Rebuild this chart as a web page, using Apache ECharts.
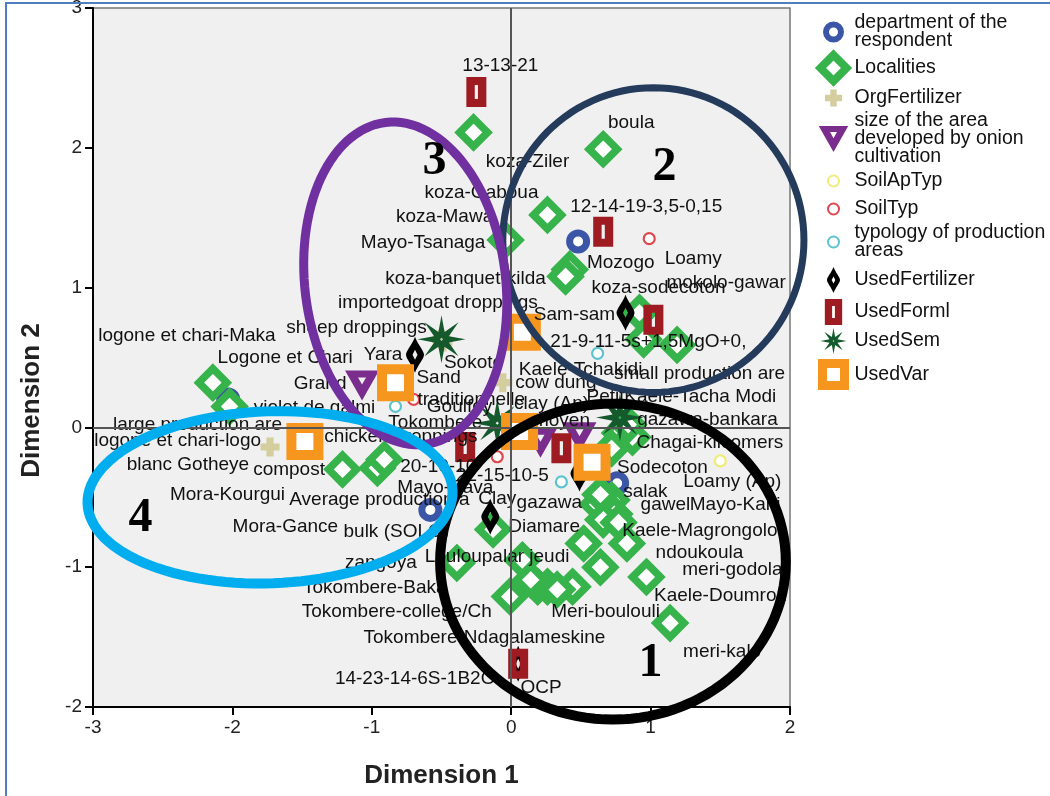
<!DOCTYPE html>
<html>
<head>
<meta charset="utf-8">
<title>Joint plot of category points</title>
<script src="https://cdn.jsdelivr.net/npm/echarts@6/dist/echarts.min.js"></script>
<style>
  html, body { margin: 0; padding: 0; background: #fff; }
  #chart { position: absolute; left: 0; top: 0; width: 1050px; height: 796px; }
  #frame { position: absolute; left: 5px; top: 2px; width: 1045px; height: 794px;
           border-left: 2px solid #4f7fc0; border-top: 2px solid #4f7fc0;
           box-sizing: border-box; pointer-events: none; }
</style>
</head>
<body>
<div id="chart"></div>
<div id="frame"></div>
<script>
// ---- category points: [Dimension 1, Dimension 2, category label] ----
const departmentPts = [
  [0.48, 1.33, 'Mayo-Tsanaga'],
  [-2.03, 0.20, 'Logone et Chari'],
  [-0.58, -0.59, 'Mayo-Sava'],
  [0.76, -0.40, 'Mayo-Kani'],
  [0.53, -0.84, 'Diamare']
];
const localityPts = [
  [-0.27, 2.11, 'koza-Ziler'],
  [0.66, 1.99, 'boula'],
  [0.26, 1.52, 'koza-Gaboua'],
  [-0.04, 1.34, 'koza-Mawa'],
  [0.42, 1.13, 'Mozogo'],
  [0.39, 1.08, 'koza-banquet-kilda'],
  [0.92, 0.82, 'koza-sodecoton'],
  [0.95, 0.63, 'Kaele-Tchakidi'],
  [1.19, 0.59, 'mokolo-gawar'],
  [-2.14, 0.32, 'logone et chari-Maka'],
  [-2.02, 0.15, 'logone et chari-logo'],
  [-1.21, -0.30, 'Mora-Kourgui'],
  [-0.96, -0.29, 'Mora-Gance'],
  [-0.91, -0.23, 'Tokombere'],
  [0.78, -0.04, 'Chagai-kilcomers'],
  [0.87, -0.07, 'gazawa-bankara'],
  [0.84, 0.02, 'Kaele-Tacha Modi'],
  [0.72, -0.15, ''],
  [-0.13, -0.73, 'Louloupalar jeudi'],
  [-0.39, -0.97, 'zangoya'],
  [0.08, -0.95, 'gazawa'],
  [-0.01, -1.21, 'Tokombere-Baka'],
  [0.19, -1.14, 'Tokombere-college/Ch'],
  [0.26, -1.14, 'Tokombere-Ndagalameskine'],
  [0.44, -1.14, 'Meri-boulouli'],
  [0.14, -1.09, ''],
  [0.33, -1.16, ''],
  [0.52, -0.83, ''],
  [0.64, -1.00, 'ndoukoula'],
  [0.83, -0.83, 'Kaele-Magrongolo'],
  [0.69, -0.59, 'gawel'],
  [0.72, -0.52, ''],
  [0.62, -0.55, ''],
  [0.74, -0.62, ''],
  [0.66, -0.66, ''],
  [0.97, -1.07, 'meri-godola'],
  [1.14, -1.40, 'meri-kalo'],
  [0.77, -0.68, 'Kaele-Doumrou'],
  [0.64, -0.48, 'salak']
];
const orgFertilizerPts = [
  [-1.73, -0.14, 'compost'],
  [-0.06, 0.32, 'cow dung'],
  [-0.50, 0.63, 'sheep droppings'],
  [-0.49, 0.61, 'importedgoat droppings'],
  [-1.48, -0.10, 'chicken droppings']
];
const areaSizePts = [
  [-1.07, 0.30, 'Grand'],
  [0.21, -0.11, 'moyen'],
  [0.49, -0.07, 'Petit']
];
const soilApTypePts = [
  [1.50, -0.24, 'Loamy (Ap)'],
  [0.06, -0.03, 'clay (Ap)']
];
const soilTypePts = [
  [0.99, 1.35, 'Loamy'],
  [-0.70, 0.20, 'Sand'],
  [-0.10, -0.21, 'Clay']
];
const zoneTypologyPts = [
  [-0.83, 0.15, 'large production are'],
  [0.62, 0.53, 'small production are'],
  [0.36, -0.39, 'Average production a']
];
const fertilizerPts = [
  [-0.69, 0.52, 'Yara'],
  [0.82, 0.82, 'Sam-sam'],
  [0.49, -0.33, 'Sodecoton'],
  [-0.15, -0.64, 'bulk (SOLO)'],
  [0.05, -1.69, 'OCP']
];
const formulaPts = [
  [-0.25, 2.40, '13-13-21'],
  [0.66, 1.40, '12-14-19-3,5-0,15'],
  [1.02, 0.77, '21-9-11-5s+1,5MgO+0,'],
  [-0.33, -0.14, '20-10-10'],
  [0.36, -0.15, '22-15-10-5'],
  [0.05, -1.69, '14-23-14-6S-1B2O']
];
const seedPts = [
  [-0.50, 0.63, 'Sokoto'],
  [-0.10, 0.03, 'traditionnelle'],
  [0.78, 0.07, '']
];
const varietyPts = [
  [-0.83, 0.32, 'violet de galmi'],
  [0.08, 0.68, ''],
  [-1.48, -0.10, 'blanc Gotheye'],
  [0.06, -0.03, 'Goulfey'],
  [0.58, -0.25, '']
];

// axis ticks
const dim1Ticks = [-3, -2, -1, 0, 1, 2];
const dim2Ticks = [-2, -1, 0, 1, 2, 3];

// ---- label placement (pixel nudge of each label from its point) ----
const labelNudge = {
  'Mayo-Tsanaga': [-155, 1], 'Logone et Chari': [57, -42], 'Mayo-Sava': [15, -22],
  'Mayo-Kani': [118, 21], 'Diamare': [-41, -18],
  'koza-Ziler': [54, 29], 'boula': [28, -26], 'koza-Gaboua': [-66, -22], 'koza-Mawa': [-61, -23],
  'Mozogo': [51, -7], 'koza-banquet-kilda': [-100, 2], 'koza-sodecoton': [19, -25],
  'Kaele-Tchakidi': [-63, 30], 'mokolo-gawar': [49, -62], 'logone et chari-Maka': [-26, -47],
  'logone et chari-logo': [-52, 34], 'Mora-Kourgui': [-115, 25], 'Mora-Gance': [-92, 59],
  'Tokombere': [51, -37], 'Chagai-kilcomers': [90, 10], 'gazawa-bankara': [75, -17],
  'Kaele-Tacha Modi': [72, -28], 'Louloupalar jeudi': [4, 27], 'zangoya': [-76, 0],
  'gazawa': [27, -57], 'Tokombere-Baka': [-135, -9], 'Tokombere-college/Ch': [-141, 25],
  'Tokombere-Ndagalameskine': [-63, 51], 'Meri-boulouli': [33, 25], 'ndoukoula': [99, -14],
  'Kaele-Magrongolo': [73, -13], 'gawel': [58, -5], 'meri-godola': [86, -7],
  'meri-kalo': [52, 29], 'Kaele-Doumrou': [102, 73], 'salak': [45, -3],
  'compost': [19, 23], 'cow dung': [53, 0], 'sheep droppings': [-85, -12],
  'importedgoat droppings': [-5, -39], 'chicken droppings': [96, -5],
  'Grand': [-42, -2], 'moyen': [21, -22], 'Petit': [26, -40],
  'Loamy (Ap)': [12, 21], 'clay (Ap)': [32, -28],
  'Loamy': [44, 20], 'Sand': [25, -22], 'Clay': [0, 42],
  'large production are': [-198, 18], 'small production are': [102, 20], 'Average production a': [-182, 18],
  'Yara': [-32, 0], 'Sam-sam': [-51, 2], 'Sodecoton': [83, -6], 'bulk (SOLO)': [-94, 15], 'OCP': [23, 24],
  '13-13-21': [24, -26], '12-14-19-3,5-0,15': [43, -25], '21-9-11-5s+1,5MgO+0,': [-5, 22],
  '20-10-10': [-27, 20], '22-15-10-5': [-59, 27], '14-23-14-6S-1B2O': [-103, 15],
  'Sokoto': [32, 23], 'traditionnelle': [-26, -23],
  'violet de galmi': [-81, 25], 'blanc Gotheye': [-117, 23], 'Goulfey': [-60, -25]
};

// ---- group outlines drawn over the plot (data units) ----
const clusterOutlines = [
  { cx: 0.73, cy: -0.96, rx: 1.24, ry: 1.13, tilt: 0, color: '#000000', width: 10, tag: '1', tx: 1.00, ty: -1.69 },
  { cx: 1.02, cy: 1.34, rx: 1.08, ry: 1.09, tilt: 0, color: '#243b5c', width: 7, tag: '2', tx: 1.10, ty: 1.86 },
  { cx: -0.76, cy: 1.03, rx: 0.72, ry: 1.16, tilt: -7, color: '#7030a0', width: 9, tag: '3', tx: -0.55, ty: 1.90 },
  { cx: -1.73, cy: -0.50, rx: 1.31, ry: 0.615, tilt: -2, color: '#00aeef', width: 10, tag: '4', tx: -2.66, ty: -0.65 }
];

const FONT = '"Liberation Sans", Arial, sans-serif';
const TEXT = '#111111';

// ---- marker shapes ----
function starPath(n, R, r) {
  let d = '';
  for (let i = 0; i < n * 2; i++) {
    const rad = i % 2 === 0 ? R : r;
    const ang = -Math.PI / 2 + i * Math.PI / n;
    d += (i ? 'L' : 'M') + (rad * Math.cos(ang)).toFixed(2) + ',' + (rad * Math.sin(ang)).toFixed(2) + ' ';
  }
  return d + 'Z M0,-1.6 L-1.6,0 L0,1.6 L1.6,0 Z';
}
const PLUS = 'M-3.2,-8.5 L3.2,-8.5 L3.2,-3.2 L8.5,-3.2 L8.5,3.2 L3.2,3.2 L3.2,8.5 L-3.2,8.5 L-3.2,3.2 L-8.5,3.2 L-8.5,-3.2 L-3.2,-3.2 Z';
const TRI = 'M-17,-15 L17,-15 L0,15 Z M-4,-8 L0,-1 L4,-8 Z';
const LENS = 'M0,-18 C3,-10 9,-4 9,0 C9,4 3,10 0,18 C-3,10 -9,4 -9,0 C-9,-4 -3,-10 0,-18 Z M0,-5 L-2.5,0 L0,5 L2.5,0 Z';
const BAR = 'M-10,-15 L10,-15 L10,15 L-10,15 Z M-1.6,-7 L-1.6,7 L1.6,7 L1.6,-7 Z';
const STAR = starPath(8, 24, 8);
const PAD = 'M-13,-13 M13,13 ';
const ring = r => PAD + `M0,${-r} A${r},${r} 0 1 1 0,${r} A${r},${r} 0 1 1 0,${-r} Z`;

const BLUE = '#3b56a6', GREEN = '#36b34a', TAN = '#d4cd9e', PURPLE = '#7b2d8e',
      YELLOW = '#f0ec78', RED = '#e2474d', CYAN = '#5cc4ce', BLACK = '#000000',
      DARKRED = '#9e1b21', DARKGREEN = '#145a2d', ORANGE = '#f6961e';

const groups = [
  { name: 'department of the\nrespondent', rows: departmentPts, symbol: 'circle', size: 17,
    style: { color: '#fff', borderColor: BLUE, borderWidth: 7 },
    icon: 'path://' + ring(7.5), iconStyle: { color: '#fff', borderColor: BLUE, borderWidth: 6 } },
  { name: 'Localities', rows: localityPts, symbol: 'diamond', size: 28,
    style: { color: '#fff', borderColor: GREEN, borderWidth: 7.5 },
    icon: 'path://' + PAD + 'M0,-13 L13,0 L0,13 L-13,0 Z', iconStyle: { color: '#fff', borderColor: GREEN, borderWidth: 8 } },
  { name: 'OrgFertilizer', rows: orgFertilizerPts, symbol: 'path://' + PLUS, size: 19,
    style: { color: TAN, borderWidth: 0 },
    icon: 'path://' + PAD + PLUS, iconStyle: { color: TAN, borderWidth: 0 } },
  { name: 'size of the area\ndeveloped by onion\ncultivation', rows: areaSizePts, symbol: 'path://' + TRI, size: [34, 30],
    style: { color: PURPLE, borderWidth: 0 },
    icon: 'path://' + TRI, iconStyle: { color: PURPLE, borderWidth: 0 } },
  { name: 'SoilApTyp', rows: soilApTypePts, symbol: 'circle', size: 11,
    style: { color: '#fff', borderColor: YELLOW, borderWidth: 2.2 },
    icon: 'path://' + ring(5.5), iconStyle: { color: '#fff', borderColor: YELLOW, borderWidth: 2 } },
  { name: 'SoilTyp', rows: soilTypePts, symbol: 'circle', size: 11,
    style: { color: '#fff', borderColor: RED, borderWidth: 2.2 },
    icon: 'path://' + ring(5.5), iconStyle: { color: '#fff', borderColor: RED, borderWidth: 2 } },
  { name: 'typology of production\nareas', rows: zoneTypologyPts, symbol: 'circle', size: 11,
    style: { color: '#fff', borderColor: CYAN, borderWidth: 2.2 },
    icon: 'path://' + ring(5.5), iconStyle: { color: '#fff', borderColor: CYAN, borderWidth: 2 } },
  { name: 'UsedFertilizer', rows: fertilizerPts, symbol: 'path://' + LENS, size: [18, 36],
    style: { color: BLACK, borderWidth: 0 },
    icon: 'path://' + LENS, iconStyle: { color: BLACK, borderWidth: 0 } },
  { name: 'UsedForml', rows: formulaPts, symbol: 'path://' + BAR, size: [20, 30],
    style: { color: DARKRED, borderWidth: 0 },
    icon: 'path://' + BAR, iconStyle: { color: DARKRED, borderWidth: 0 } },
  { name: 'UsedSem', rows: seedPts, symbol: 'path://' + STAR, size: 48,
    style: { color: DARKGREEN, borderWidth: 0 },
    icon: 'path://' + STAR, iconStyle: { color: DARKGREEN, borderWidth: 0 } },
  { name: 'UsedVar', rows: varietyPts, symbol: 'rect', size: 27,
    style: { color: '#fff', borderColor: ORANGE, borderWidth: 10 },
    icon: 'path://' + PAD + 'M-11,-11 L11,-11 L11,11 L-11,11 Z', iconStyle: { color: '#fff', borderColor: ORANGE, borderWidth: 9 } }
];
groups.forEach(g => { g.style.opacity = 1; g.iconStyle.opacity = 1; });

// legend rows that sit in a taller line
const legendRowHeight = { 'UsedFertilizer': 38, 'UsedSem': 32 };

const pointLabel = {
  show: true, position: 'inside', formatter: '{b}',
  color: TEXT, fontSize: 19, fontFamily: FONT, textBorderWidth: 0, opacity: 1
};

const toItems = rows => rows.map(([x, y, tag]) => ({
  value: [x, y], name: tag, label: { offset: labelNudge[tag] || [0, 0] }
}));

const scatterSeries = groups.map(g => ({
  type: 'scatter', name: g.name, data: toItems(g.rows),
  symbol: g.symbol, symbolSize: g.size, itemStyle: g.style,
  label: pointLabel, labelLine: { show: false },
  emphasis: { disabled: true }, z: 2, clip: false
}));

const zeroLines = {
  type: 'scatter', name: 'reference', data: [], z: 1, silent: true,
  markLine: {
    silent: true, symbol: ['none', 'none'], label: { show: false }, animation: false,
    lineStyle: { color: '#555', width: 2, type: 'solid', opacity: 1 },
    emphasis: { disabled: true },
    data: [{ xAxis: 0 }, { yAxis: 0 }]
  }
};

const outlines = {
  type: 'custom', name: 'groups', silent: true, z: 20, clip: false,
  data: clusterOutlines.map(o => [o.cx, o.cy]),
  renderItem(params, api) {
    const o = clusterOutlines[params.dataIndex];
    const c = api.coord([o.cx, o.cy]);
    const s = api.size([o.rx, o.ry]);
    const a = o.tilt * Math.PI / 180;
    const pts = [];
    for (let i = 0; i < 120; i++) {
      const t = i / 120 * Math.PI * 2;
      const ex = s[0] * Math.cos(t), ey = s[1] * Math.sin(t);
      pts.push([c[0] + ex * Math.cos(a) - ey * Math.sin(a), c[1] + ex * Math.sin(a) + ey * Math.cos(a)]);
    }
    const p = api.coord([o.tx, o.ty]);
    return {
      type: 'group',
      children: [
        { type: 'polygon', shape: { points: pts }, style: { fill: 'none', stroke: o.color, lineWidth: o.width } },
        { type: 'text', x: p[0], y: p[1],
          style: { text: o.tag, fill: '#000', fontSize: 48, fontWeight: 'bold',
                   fontFamily: '"Liberation Serif", "Times New Roman", serif',
                   align: 'center', verticalAlign: 'middle' } }
      ]
    };
  }
};

const axisCommon = {
  type: 'value', interval: 1,
  axisLine: { show: true, onZero: false, lineStyle: { color: '#000', width: 2 } },
  axisTick: { show: true, inside: false, length: 8, lineStyle: { color: '#000', width: 2 } },
  splitLine: { show: false },
  nameLocation: 'middle', nameMoveOverlap: false,
  nameTextStyle: { fontSize: 26, fontWeight: 'bold', color: '#222', fontFamily: FONT }
};

const legendText = { fontSize: 19.5, color: '#111', fontFamily: FONT };

const chart = echarts.init(document.getElementById('chart'), null, { renderer: 'canvas' });
chart.setOption({
  animation: false,
  backgroundColor: '#ffffff',
  grid: {
    left: 93, top: 8, width: 697, height: 699,
    show: true, backgroundColor: '#f0f0f0', borderColor: '#777', borderWidth: 1.5,
    containLabel: false, outerBoundsMode: 'none'
  },
  xAxis: Object.assign({}, axisCommon, {
    min: dim1Ticks[0], max: dim1Ticks[dim1Ticks.length - 1],
    name: 'Dimension 1', nameGap: 56,
    axisLabel: { fontSize: 19, color: '#222', margin: 11, fontFamily: FONT }
  }),
  yAxis: Object.assign({}, axisCommon, {
    min: dim2Ticks[0], max: dim2Ticks[dim2Ticks.length - 1],
    name: 'Dimension 2', nameGap: 48,
    nameTextStyle: Object.assign({}, axisCommon.nameTextStyle, { padding: [0, 86, 0, 0] }),
    axisLabel: { fontSize: 19, color: '#222', margin: 11, fontFamily: FONT }
  }),
  legend: {
    orient: 'vertical', left: 811, top: 8, padding: 5,
    itemWidth: 32, itemHeight: 26, itemGap: 0,
    selectedMode: false, symbolKeepAspect: true,
    textStyle: Object.assign({ lineHeight: 18 }, legendText, {
      rich: {
        tall38: Object.assign({ lineHeight: 38 }, legendText),
        tall32: Object.assign({ lineHeight: 32 }, legendText)
      }
    }),
    formatter: name => legendRowHeight[name] ? `{tall${legendRowHeight[name]}|${name}}` : name,
    data: groups.map(g => ({ name: g.name, icon: g.icon, itemStyle: g.iconStyle }))
  },
  series: [zeroLines].concat(scatterSeries, [outlines])
});
</script>
</body>
</html>
